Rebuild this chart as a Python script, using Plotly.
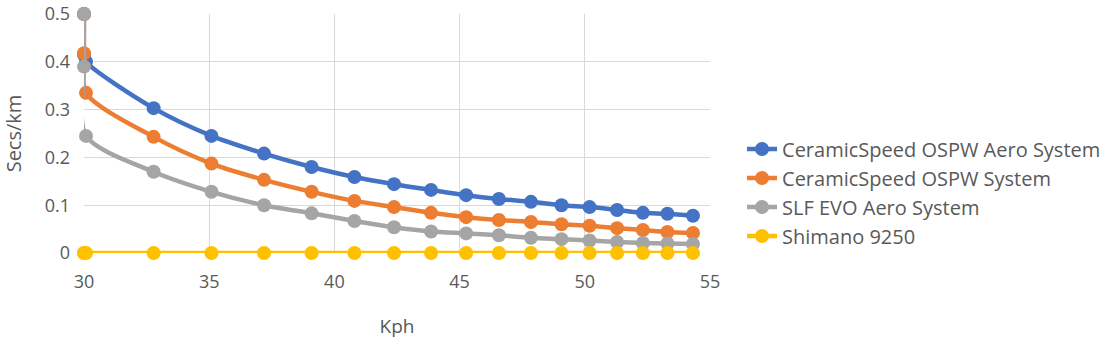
import plotly.graph_objects as go

kph = [30.0, 30.0, 30.08, 32.78, 35.09, 37.19, 39.09, 40.80, 42.38, 43.86,
       45.26, 46.57, 47.85, 49.07, 50.19, 51.29, 52.32, 53.30, 54.32]

aero_ospw = [0.50, 0.415, 0.400, 0.303, 0.245, 0.208, 0.180, 0.159, 0.144, 0.132,
             0.121, 0.113, 0.107, 0.100, 0.096, 0.090, 0.084, 0.082, 0.078]
ospw = [0.50, 0.418, 0.335, 0.243, 0.187, 0.153, 0.128, 0.109, 0.096, 0.084,
        0.075, 0.069, 0.065, 0.060, 0.057, 0.052, 0.048, 0.044, 0.042]
slf_evo = [0.50, 0.390, 0.245, 0.170, 0.128, 0.100, 0.083, 0.067, 0.054, 0.045,
           0.041, 0.037, 0.032, 0.029, 0.026, 0.023, 0.021, 0.020, 0.019]
shimano = [0.0] * len(kph)

series = [
    ("CeramicSpeed OSPW Aero System", aero_ospw, "#4472C4"),
    ("CeramicSpeed OSPW System", ospw, "#ED7D31"),
    ("SLF EVO Aero System", slf_evo, "#A5A5A5"),
    ("Shimano 9250", shimano, "#FFC000"),
]

fig = go.Figure()
for name, ys, color in series:
    fig.add_trace(go.Scatter(
        x=kph, y=ys, name=name, mode="lines+markers",
        line=dict(color=color, width=4.5, shape="spline", smoothing=0.8),
        marker=dict(color=color, size=14),
        cliponaxis=False,
    ))

font_color = "#595959"
fig.update_layout(
    width=1108, height=346,
    margin=dict(l=84, r=398, t=14, b=93, autoexpand=False),
    paper_bgcolor="white", plot_bgcolor="white",
    font=dict(family="Open Sans, Noto Sans, sans-serif", size=18, color=font_color),
    legend=dict(xref="container", yref="container", x=0.6697, y=0.6257,
                xanchor="left", yanchor="top",
                font=dict(size=20, color=font_color), tracegroupgap=0,
                itemwidth=30),
    showlegend=True,
)
fig.update_xaxes(range=[30, 55], dtick=5, tick0=30, showgrid=True,
                 gridcolor="#D9D9D9", gridwidth=1, zeroline=False,
                 showline=False, ticks="", ticklabelstandoff=16, automargin=False,
                 title=dict(text="Kph", standoff=27, font=dict(size=19, color=font_color)))
fig.update_yaxes(range=[0, 0.5], dtick=0.1, showgrid=True,
                 gridcolor="#D9D9D9", gridwidth=1, zeroline=False,
                 showline=False, ticks="", ticklabelstandoff=13, automargin=False,
                 tickformat="~g",
                 title=dict(text="Secs/km", standoff=17, font=dict(size=20, color=font_color)))

fig.write_html("out.html")
